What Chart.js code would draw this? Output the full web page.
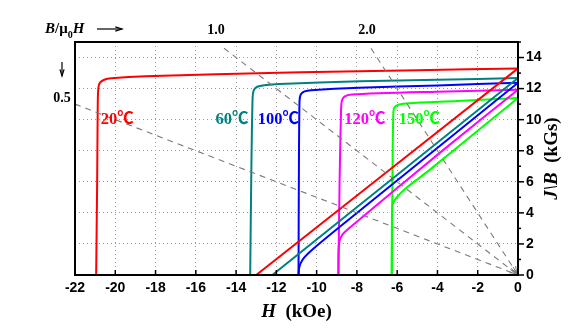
<!DOCTYPE html>
<html>
<head>
<meta charset="utf-8">
<script src="https://cdn.jsdelivr.net/npm/chart.js@4.4.0/dist/chart.umd.min.js"></script>
<style>
  html, body { margin: 0; padding: 0; background: #fff; }
</style>
</head>
<body>
<canvas id="magChart" width="585" height="332"></canvas>
<script>
// demagnetization curves: H in kOe, J and B in kGs
const temps = ['20℃', '60℃', '100℃', '120℃', '150℃'];
const colors = ['#ff0000', '#008080', '#0000ff', '#ff00ff', '#00ff00'];

// intrinsic curves J(H)
const j20 = [[-20.95, 0], [-20.9, 6], [-20.87, 11], [-20.84, 12.05], [-20.76, 12.38], [-20.55, 12.57], [-20.2, 12.66], [-18.5, 12.8], [-15, 12.92], [-10.8, 13.06], [-5, 13.18], [0, 13.3]];
const j60 = [[-13.3, 0], [-13.24, 7], [-13.18, 11.4], [-13.12, 11.9], [-12.95, 12.12], [-12.6, 12.22], [-11.85, 12.3], [-7.85, 12.47], [-4, 12.57], [0, 12.68]];
const j100 = [[-10.9, 0], [-10.88, 7], [-10.85, 11.2], [-10.79, 11.62], [-10.6, 11.82], [-10.28, 11.9], [-7.9, 12.06], [-4, 12.2], [0, 12.38]];
const j120 = [[-8.92, 0], [-8.86, 6], [-8.79, 10.5], [-8.75, 11.2], [-8.62, 11.48], [-8.25, 11.62], [-4, 11.8], [0, 11.93]];
const j150 = [[-6.27, 0], [-6.23, 7], [-6.19, 10.45], [-6.12, 10.82], [-5.9, 10.98], [-5.4, 11.06], [-3, 11.2], [0, 11.4]];

// normal curves B(H)
const b20 = [[-13.0, 0], [0, 13.3]];
const b60 = [[-12.2, 0], [0, 12.68]];
const b100 = [[-10.9, 0], [-10.87, 0.45], [-10.78, 0.8], [-10.6, 1.15], [-10.25, 1.6], [-9, 2.95], [0, 12.38]];
const b120 = [[-8.92, 0], [-8.91, 1.6], [-8.86, 2.2], [-8.72, 2.6], [-8.45, 2.95], [-3.72, 8.04], [0, 11.93]];
const b150 = [[-6.27, 0], [-6.26, 3.8], [-6.22, 4.55], [-6.05, 4.95], [-5.6, 5.55], [-4.4, 6.75], [0, 11.4]];

// load lines B/μ0H, from the frame to the origin
const loadNames = ['0.5', '1.0', '2.0'];
const load05 = [[-22, 11], [0, 0]];
const load10 = [[-14.6, 14.6], [0, 0]];
const load20 = [[-7.3, 14.6], [0, 0]];

// where the temperature labels sit (data units)
const labelSpots = [[-19.9, 10], [-14.2, 10], [-11.9, 10], [-7.6, 10], [-4.9, 10]];

const jCurves = [j20, j60, j100, j120, j150];
const bCurves = [b20, b60, b100, b120, b150];
const loadLines = [load05, load10, load20];

const toXY = arr => arr.map(p => ({ x: p[0], y: p[1] }));

const datasets = [];
loadLines.forEach((pts, i) => {
    datasets.push({
        label: 'B/μ0H = ' + loadNames[i],
        data: toXY(pts),
        showLine: true,
        borderColor: '#7a7a7a',
        borderWidth: 1.1,
        borderDash: [6, 5],
        pointRadius: 0
    });
});
temps.forEach((t, i) => {
    datasets.push({
        label: 'J ' + t,
        data: toXY(jCurves[i]),
        showLine: true,
        borderColor: colors[i],
        borderWidth: 2,
        pointRadius: 0,
        tension: 0.25
    });
    datasets.push({
        label: 'B ' + t,
        data: toXY(bCurves[i]),
        showLine: true,
        borderColor: colors[i],
        borderWidth: 2,
        pointRadius: 0,
        tension: 0.25
    });
});

const serif = '"Liberation Serif", "Times New Roman", "Noto Sans CJK SC", serif';

function arrowHead(ctx, x1, y1, x2, y2, len, spread) {
    const ang = Math.atan2(y2 - y1, x2 - x1);
    ctx.beginPath();
    ctx.moveTo(x2 - len * Math.cos(ang - spread), y2 - len * Math.sin(ang - spread));
    ctx.lineTo(x2, y2);
    ctx.lineTo(x2 - len * Math.cos(ang + spread), y2 - len * Math.sin(ang + spread));
    ctx.stroke();
}

const decor = {
    id: 'decor',
    afterDatasetsDraw(chart) {
        const ctx = chart.ctx;
        const a = chart.chartArea;
        const x = chart.scales.x;
        const y = chart.scales.y;
        ctx.save();

        // arrow heads of the load lines at the origin
        ctx.strokeStyle = '#7a7a7a';
        ctx.lineWidth = 1;
        ctx.setLineDash([]);
        const ox = x.getPixelForValue(0), oy = y.getPixelForValue(0);
        loadLines.forEach(pts => {
            arrowHead(ctx, x.getPixelForValue(pts[0][0]), y.getPixelForValue(pts[0][1]), ox - 1, oy - 1, 8, 0.4);
        });

        // frame
        ctx.strokeStyle = '#000';
        ctx.lineWidth = 2;
        ctx.strokeRect(a.left, a.top, a.right - a.left, a.bottom - a.top);

        // ticks: bottom inward, right outward
        ctx.lineWidth = 1.5;
        x.ticks.forEach(t => {
            const px = x.getPixelForValue(t.value);
            ctx.beginPath();
            ctx.moveTo(px, a.bottom);
            ctx.lineTo(px, a.bottom - 5);
            ctx.stroke();
        });
        y.ticks.forEach(t => {
            const py = y.getPixelForValue(t.value);
            const len = t.value % 2 ? 3 : 6;
            ctx.beginPath();
            ctx.moveTo(a.right, py);
            ctx.lineTo(a.right + len, py);
            ctx.stroke();
        });

        // temperature labels
        ctx.textAlign = 'center';
        ctx.textBaseline = 'middle';
        ctx.font = 'bold 16.5px ' + serif;
        temps.forEach((t, i) => {
            ctx.fillStyle = colors[i];
            ctx.fillText(t, x.getPixelForValue(labelSpots[i][0]), y.getPixelForValue(labelSpots[i][1]));
        });

        // load line values at the frame
        ctx.fillStyle = '#000';
        ctx.font = 'bold 14px ' + serif;
        ctx.fillText(loadNames[1], x.getPixelForValue(-15), a.top - 12);
        ctx.fillText(loadNames[2], x.getPixelForValue(-7.5), a.top - 12);
        ctx.fillText(loadNames[0], a.left - 13, y.getPixelForValue(11) - 6);

        // B/μ0H with arrows
        ctx.textAlign = 'left';
        ctx.textBaseline = 'alphabetic';
        let tx = a.left - 30;
        const base = a.top - 9;
        ctx.font = 'bold italic 15px ' + serif;
        ctx.fillText('B', tx, base);
        tx += ctx.measureText('B').width;
        ctx.font = 'bold 15px ' + serif;
        ctx.fillText('/μ', tx, base);
        tx += ctx.measureText('/μ').width;
        ctx.font = 'bold 10px ' + serif;
        ctx.fillText('0', tx, base + 5);
        tx += ctx.measureText('0').width;
        ctx.font = 'bold italic 15px ' + serif;
        ctx.fillText('H', tx, base);

        ctx.strokeStyle = '#000';
        ctx.lineWidth = 1.2;
        ctx.beginPath();
        ctx.moveTo(a.left + 22, a.top - 13);
        ctx.lineTo(a.left + 47, a.top - 13);
        ctx.stroke();
        arrowHead(ctx, a.left + 22, a.top - 13, a.left + 47, a.top - 13, 7, 0.3);
        ctx.beginPath();
        ctx.moveTo(a.left - 13, a.top + 20);
        ctx.lineTo(a.left - 13, a.top + 34);
        ctx.stroke();
        arrowHead(ctx, a.left - 13, a.top + 20, a.left - 13, a.top + 34, 7, 0.3);

        // x title: H (kOe)
        ctx.fillStyle = '#000';
        ctx.textBaseline = 'middle';
        ctx.font = 'bold italic 19px ' + serif;
        const hW = ctx.measureText('H').width;
        ctx.font = 'bold 19px ' + serif;
        const kW = ctx.measureText('  (kOe)').width;
        let sx = (a.left + a.right) / 2 - (hW + kW) / 2;
        const ty = a.bottom + 37;
        ctx.font = 'bold italic 19px ' + serif;
        ctx.fillText('H', sx, ty);
        ctx.font = 'bold 19px ' + serif;
        ctx.fillText('  (kOe)', sx + hW, ty);

        // y title: J\B (kGs), reading upward
        ctx.translate(a.right + 34, (a.top + a.bottom) / 2);
        ctx.rotate(-Math.PI / 2);
        ctx.font = 'bold italic 19px ' + serif;
        const jW = ctx.measureText('J\\B').width;
        ctx.font = 'bold 19px ' + serif;
        const gW = ctx.measureText('  (kGs)').width;
        sx = -(jW + gW) / 2;
        ctx.font = 'bold italic 19px ' + serif;
        ctx.fillText('J\\B', sx, 0);
        ctx.font = 'bold 19px ' + serif;
        ctx.fillText('  (kGs)', sx + jW, 0);

        ctx.restore();
    }
};

const tickFont = { family: '"Liberation Sans", Arial, sans-serif', size: 14, weight: 'bold' };

new Chart(document.getElementById('magChart'), {
    type: 'scatter',
    data: { datasets: datasets },
    options: {
        responsive: false,
        animation: false,
        devicePixelRatio: 1,
        layout: { padding: { left: 75, top: 42, right: 0, bottom: 0 } },
        plugins: { legend: { display: false }, tooltip: { enabled: false } },
        scales: {
            x: {
                min: -22,
                max: 0,
                afterFit: s => { s.height = 57; },
                ticks: { stepSize: 2, font: tickFont, color: '#000', padding: 5, autoSkip: false, maxRotation: 0 },
                grid: {
                    drawTicks: false,
                    lineWidth: 1,
                    color: c => (c.tick && c.tick.value > -22 && c.tick.value < 0) ? '#999999' : 'rgba(0,0,0,0)'
                },
                border: { display: false, dash: [1, 3] }
            },
            y: {
                position: 'right',
                min: 0,
                max: 15,
                afterFit: s => { s.width = 67; },
                ticks: {
                    stepSize: 1,
                    font: tickFont,
                    color: '#000',
                    padding: 8,
                    autoSkip: false,
                    callback: v => (v % 2 === 0 && v <= 14) ? v : ''
                },
                grid: {
                    drawTicks: false,
                    lineWidth: 1,
                    color: c => (c.tick && c.tick.value % 2 === 0 && c.tick.value > 0 && c.tick.value < 15) ? '#999999' : 'rgba(0,0,0,0)'
                },
                border: { display: false, dash: [1, 3] }
            }
        }
    },
    plugins: [decor]
});
</script>
</body>
</html>
